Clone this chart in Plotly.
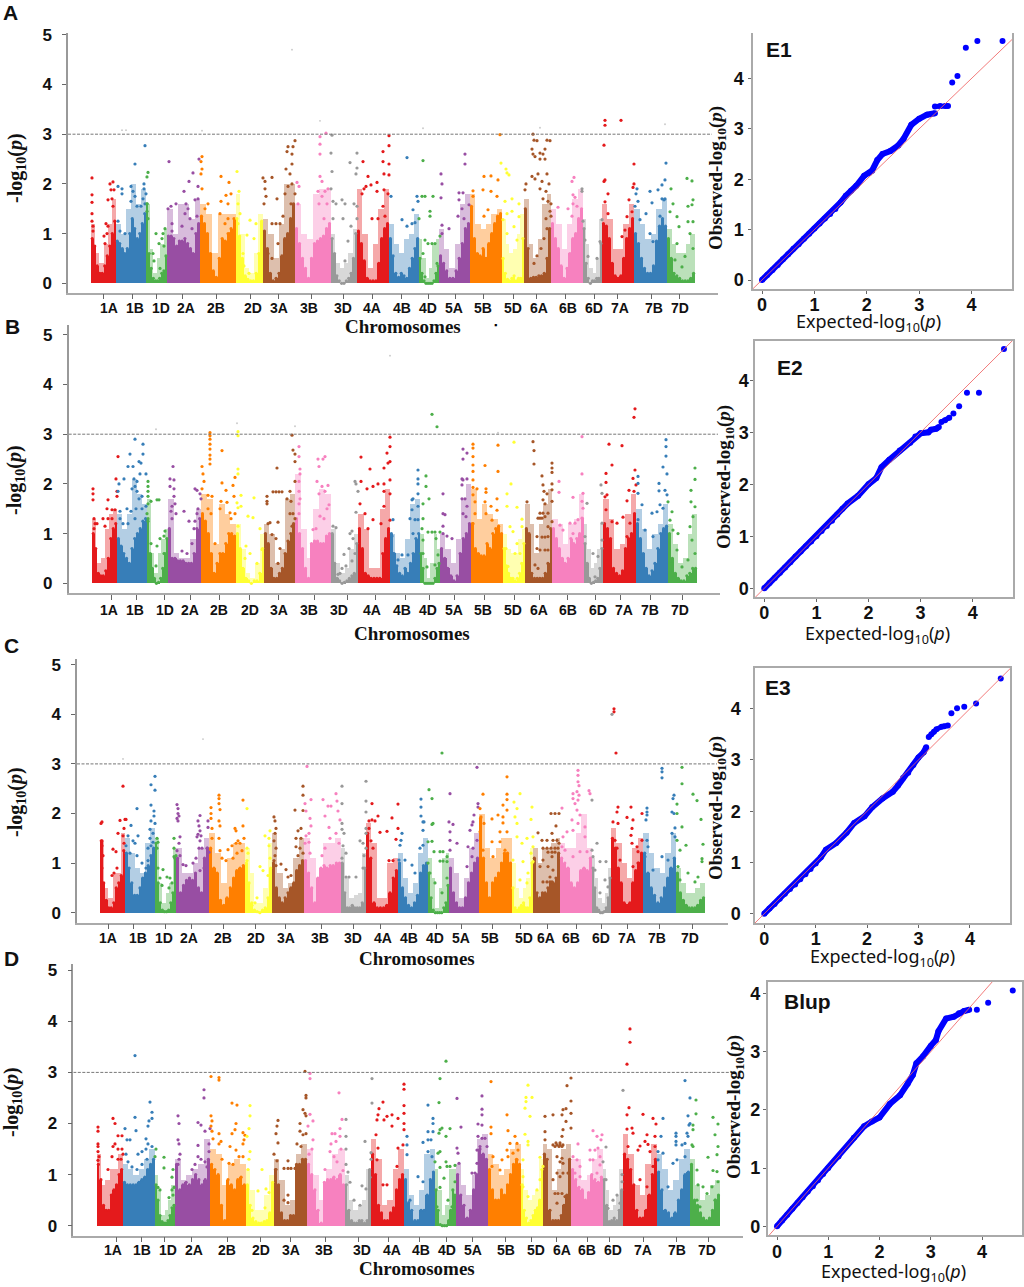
import plotly.graph_objects as go

CHROMS = ["1A","1B","1D","2A","2B","2D","3A","3B","3D","4A","4B","4D","5A","5B","5D","6A","6B","6D","7A","7B","7D"]
SET1 = ["#E41A1C","#377EB8","#4DAF4A","#984EA3","#FF7F00","#FFFF33","#A65628","#F781BF","#999999"]

# ---------------- Panel A ----------------
A_bounds = [91,116,146,167,200,235.5,263,295,331,357,389,419,439,470,502,524,551,583,602,634,667,695]
A_ticks = [103,132,156,182,216,250,278,311,343,372,401,428,455,483,513,536,565,594,617,651,679]
A_labels = [109,135,161,186,216,253,279,309,343,372,402,428,454,483,513,539,568,594,620,654,680]
A_solid = [
 [0.9,0.75,0.35,0.2,0.2,0.35,0.55,0.75,1.0,1.25],
 [0.85,0.8,0.7,0.6,0.7,1.0,1.3,1.1,0.9,1.0,1.2,1.4],
 [1.6,0.6,0.3,0.1,0.05,0.05,0.1,0.2,0.25,0.55],
 [0.95,0.95,0.9,0.75,0.85,0.85,0.9,0.8,0.7,0.6,1.0,1.2],
 [1.35,1.2,1.0,0.6,0.25,0.12,0.5,0.9,0.85,1.0,1.1,1.3],
 [1.3,0.95,0.5,0.15,0.08,0.05,0.05,0.2,0.6,1.25],
 [1.05,0.7,0.2,0.05,0.1,0.2,0.55,0.9,1.0,1.3,1.6],
 [1.1,0.8,0.5,0.3,0.1,0.5,0.8,0.85,0.9,0.95,1.1,1.2],
 [0.9,0.6,0.15,0.05,0.0,0.0,0.05,0.1,0.2,0.5,1.0],
 [1.05,0.8,0.45,0.1,0.05,0.05,0.05,0.4,0.9,1.1,1.2],
 [0.9,0.55,0.2,0.12,0.2,0.15,0.1,0.3,0.5,0.7,0.9],
 [0.5,0.2,0.05,0,0,0,0,0.05,0.2,0.35],
 [0.55,0.4,0.25,0.1,0.1,0.25,0.5,0.8,1.1,1.2],
 [1.55,0.9,0.6,0.55,0.7,0.5,0.8,1.0,1.2,1.35,1.4],
 [0.5,0.2,0.08,0.05,0.1,0.15,0.05,0.1,0.1,0.9],
 [1.5,0.7,0.1,0.12,0.12,0.15,0.15,0.2,0.5,1.1],
 [1.2,0.9,0.7,0.35,0.1,0.3,0.6,0.9,1.0,1.3,1.5],
 [1.1,0.4,0.1,0.0,0.05,0.05,0.1,0.1,0.8],
 [1.2,1.15,0.9,0.4,0.15,0.1,0.15,0.5,0.9,1.1,1.3],
 [1.0,0.8,0.5,0.3,0.2,0.2,0.35,0.85,1.15,1.3,1.15],
 [0.9,0.5,0.2,0.15,0.1,0.05,0.05,0.05,0.1,0.2],
]
A_haze = [[1.2,0.6,0.4,0.8,1.2,1.7],[1.2,1.0,1.5,2.0,1.6,1.9],[1.6,0.7,0.2,0.5,0.8,1.1],[1.5,1.0,1.6,1.6,1.3,1.7],[1.6,1.4,0.6,1.4,1.4,1.4],[1.8,1.0,0.3,0.2,0.6,1.4],[1.3,1.0,0.5,1.2,2.0,2.0],[1.6,1.0,0.9,1.8,1.9,1.9],[1.0,0.4,0.3,0.4,0.6,1.1],[1.9,1.0,0.3,0.8,1.5,1.9],[1.2,0.8,0.6,0.9,1.0,1.4],[0.9,0.5,0.1,0.3,0.8,0.9],[1.1,0.7,0.3,0.8,1.6,1.8],[1.8,1.2,1.1,1.2,1.4,1.5],[1.3,0.8,0.6,0.7,1.0,1.4],[1.7,0.8,0.5,0.9,1.6,1.8],[1.5,1.2,0.7,1.2,1.7,1.9],[1.3,0.8,0.3,0.2,0.5,1.3],[1.6,1.3,0.7,0.7,1.2,1.6],[1.5,1.2,0.9,1.0,1.5,1.7],[1.1,0.8,0.6,0.6,0.8,1.0]]
A_dots = [
 [(92,2.12),(92,1.78),(92,1.63),(92,1.4),(92,1.25),(93,1.15),(93,1.05),(110,2.0),(113,2.04),(111,1.88),(114,1.88),(108,1.68),(112,1.7),(113,1.55),(106,1.2),(108,1.15),(104,0.95),(107,1.0),(105,0.8)],
 [(118,1.25),(122,1.9),(122,1.8),(118,1.95),(135,2.4),(145,2.77),(131,1.95),(133,1.85),(135,1.75),(131,1.65),(137,1.55),(141,1.55),(144,2.0),(144,1.9),(146,1.8),(143,1.7),(145,1.6),(125,1.0),(120,1.05)],
 [(148,2.23),(147,2.14),(147,1.6),(147,1.45),(148,1.3),(156,1.0),(163,1.0),(159,0.8),(165,1.1),(162,0.9),(153,0.6),(154,0.45),(160,0.3),(164,0.75)],
 [(169,2.45),(168,1.5),(171,1.55),(176,1.6),(184,1.85),(189,2.05),(193,2.22),(199,2.5),(186,1.6),(188,1.5),(185,1.4),(190,1.3),(195,1.68),(198,1.95),(198,1.7),(197,1.35),(172,1.2),(172,1.05),(182,1.15),(192,1.1)],
 [(202,2.55),(201,2.45),(202,2.3),(201,2.2),(202,1.9),(221,2.15),(229,2.03),(221,1.65),(226,1.77),(231,1.8),(228,1.6),(208,1.6),(205,1.5),(220,1.4),(225,1.2),(228,1.3),(230,1.0)],
 [(237,2.25),(239,1.85),(238,1.6),(240,1.4),(238,1.2),(250,1.27),(256,1.2),(247,0.97),(254,0.9),(244,0.35),(249,0.2),(243,0.6)],
 [(263,2.12),(265,2.05),(272,2.13),(265,1.9),(266,1.75),(277,1.7),(264,1.6),(272,1.2),(276,1.2),(280,1.2),(283,1.35),(286,2.3),(288,2.75),(287,2.65),(292,2.6),(295,2.87),(293,2.75),(290,2.2),(292,2.4),(288,1.95),(292,2.0),(295,1.8),(285,1.8),(291,1.6),(278,0.8),(272,0.5),(268,0.6)],
 [(297,2.03),(299,1.95),(298,1.6),(320,2.95),(320,2.8),(320,2.6),(326,3.02),(320,2.15),(322,2.05),(318,1.85),(322,1.75),(319,1.6),(325,1.85),(328,1.9),(327,1.6),(324,1.3)],
 [(332,2.98),(331,2.62),(332,2.25),(331,1.9),(333,1.65),(336,1.6),(342,1.68),(345,1.6),(343,1.3),(333,1.3),(350,2.43),(357,2.62),(357,2.32),(356,2.2),(354,1.6),(357,1.55),(351,1.15),(357,1.3),(348,0.85),(345,0.45)],
 [(383,2.65),(389,2.97),(389,2.77),(383,2.45),(389,2.4),(384,2.2),(389,2.18),(377,2.03),(371,1.98),(364,1.9),(368,2.15),(363,2.45),(377,1.85),(384,1.88),(388,1.8),(372,1.3),(378,1.3),(383,1.55),(385,1.35),(366,1.95),(362,1.8)],
 [(407,2.53),(391,1.75),(413,1.48),(417,1.75),(418,1.65),(402,1.28),(407,1.15),(412,1.2),(415,1.22)],
 [(423,2.47),(422,1.75),(425,1.75),(433,1.75),(430,1.45),(430,1.35),(419,1.3),(428,0.8),(432,0.8),(435,0.8),(440,0.95),(437,0.4),(425,0.87),(423,0.6),(425,0.13)],
 [(441,2.2),(442,2.0),(441,1.72),(465,2.6),(465,2.4),(459,1.82),(463,1.82),(459,1.68),(469,1.58),(462,1.5),(442,1.17),(449,1.1),(442,1.0),(458,1.35),(464,1.3)],
 [(473,1.86),(473,1.75),(484,2.15),(491,2.16),(483,1.88),(491,1.85),(498,2.08),(497,1.75),(500,2.99),(488,1.48),(484,1.35)],
 [(501,2.42),(506,2.3),(507,2.22),(509,2.18),(505,1.65),(512,1.7),(519,1.6),(507,1.4),(512,1.45),(503,1.28),(514,1.14),(519,1.34),(507,1.0),(517,0.87)],
 [(526,2.0),(525,1.88),(533,3.0),(534,2.88),(537,2.87),(547,2.88),(550,2.87),(545,2.7),(532,2.7),(533,2.6),(535,2.55),(540,2.62),(543,2.6),(545,2.5),(540,2.5),(532,2.15),(535,2.1),(538,2.2),(542,2.05),(547,2.2),(549,2.0),(540,1.9),(546,1.85),(543,1.7),(548,1.65),(551,1.6),(550,1.45),(546,1.3),(551,1.35),(547,1.1),(544,0.9),(541,0.7),(537,0.55),(534,0.4)],
 [(558,1.53),(574,2.13),(572,2.05),(573,1.78),(575,1.73),(573,1.6),(568,1.5),(577,1.55),(572,1.35)],
 [(582,1.9),(582,1.85),(583,1.25),(602,1.28),(600,0.84),(588,0.54),(597,0.5),(585,0.87)],
 [(605,3.28),(605,3.18),(604,2.78),(621,3.28),(634,2.4),(604,2.05),(605,2.08),(608,1.8),(634,2.0),(633,1.93),(629,1.68),(605,1.64),(627,1.34),(625,1.07),(622,0.94),(608,1.4),(632,1.44)],
 [(666,2.42),(665,2.08),(662,1.98),(658,1.88),(650,1.85),(637,1.9),(636,1.8),(652,1.62),(662,1.7),(664,1.68),(665,1.7),(635,1.55),(638,1.65),(646,1.4),(640,1.28),(650,1.0),(653,0.84),(660,1.35)],
 [(687,2.11),(692,2.06),(671,1.9),(693,1.68),(692,1.58),(688,1.55),(673,1.6),(670,1.44),(677,1.34),(688,1.24),(693,1.24),(679,1.14),(677,0.8),(685,0.54),(693,0.7),(690,1.0),(682,0.33),(675,0.47)],
]
A_faint = [(122,3.08),(126,3.08),(202,3.07),(292,4.7),(320,3.27),(423,3.12),(540,3.13),(665,3.2)]

# ---------------- Panel B ----------------
B_bounds = [92,117,147,168,201,236,264,295,331,358,390,420,440,471,503,525,552,584,603,636,668,697]
B_ticks = [111,136,164,190,219,249,278,314,347,375,405,429,454,484,514,539,567,595,620,650,682]
B_labels = [109,135,165,190,219,250,279,309,339,372,402,428,454,483,513,539,568,598,624,650,680]
B_solid = [
 [1.0,0.7,0.2,0.15,0.15,0.25,0.5,0.9,1.1,1.2],
 [0.9,0.75,0.6,0.5,0.4,0.7,0.9,1.0,1.1,1.25,1.3],
 [1.3,0.6,0.3,0.1,0.0,0.02,0.1,0.3,0.6,0.9],
 [1.1,0.5,0.5,0.45,0.45,0.45,0.4,0.4,0.4,0.6,1.1,1.3],
 [1.4,1.25,1.0,0.6,0.2,0.4,0.6,0.6,0.8,1.0,1.0,0.95],
 [1.0,0.7,0.3,0.1,0.05,0.0,0.05,0.05,0.2,0.7],
 [1.0,0.8,0.3,0.1,0.1,0.2,0.3,0.6,0.85,1.0,1.2],
 [1.3,1.0,0.7,0.3,0.1,0.8,0.85,0.85,0.8,0.8,0.95,1.0],
 [1.0,0.4,0.1,0.05,0,0.02,0.05,0.1,0.15,0.2,0.8],
 [1.1,0.7,0.2,0.15,0.1,0.1,0.1,0.1,0.6,0.9,1.1],
 [1.0,0.6,0.35,0.2,0.15,0.3,0.2,0.4,0.6,0.9,1.0],
 [0.6,0.3,0.0,0,0,0,0,0.1,0.3,0.4],
 [0.7,0.5,0.3,0.15,0.05,0.15,0.6,0.9,1.0,1.2],
 [1.2,0.7,0.6,0.55,0.55,0.8,0.7,1.0,1.1,1.15,1.0],
 [0.7,0.35,0.2,0.1,0.1,0.05,0.1,0.2,0.4,0.8],
 [1.1,1.0,0.2,0.1,0.1,0.1,0.1,0.2,0.4,1.1],
 [1.1,0.9,0.7,0.5,0.4,0.5,0.9,0.8,0.9,1.0,1.3],
 [0.8,0.4,0.1,0.0,0.02,0.05,0.1,0.3,0.7],
 [1.2,1.1,0.9,0.3,0.2,0.15,0.25,0.7,0.9,1.0,1.4],
 [1.2,0.9,0.6,0.3,0.15,0.25,0.4,0.7,1.0,1.1,1.15],
 [1.0,0.5,0.2,0.1,0.05,0.05,0.15,0.2,0.3,0.3],
]
B_haze = [[1.3,0.4,0.5,1.1,1.4,1.5],[1.4,1.1,1.4,2.1,1.8,1.6],[1.7,0.6,0.2,0.6,0.9,1.1],[1.7,0.6,0.5,0.5,0.9,1.5],[1.8,1.7,0.8,1.6,1.4,1.2],[1.2,0.7,0.2,0.1,0.4,1.0],[1.2,1.0,0.4,0.7,1.7,1.8],[2.2,1.1,0.5,1.5,1.9,1.8],[1.1,0.4,0.2,0.3,0.7,1.0],[1.4,1.1,0.3,0.3,1.5,1.9],[1.0,0.6,0.5,0.9,1.6,1.7],[1.0,0.5,0.1,0.4,1.0,0.7],[1.0,0.7,0.4,0.9,1.7,2.0],[1.9,1.3,1.6,1.4,1.3,1.2],[1.0,0.7,0.6,0.6,0.9,1.1],[1.6,1.2,0.6,1.2,1.6,1.9],[1.3,1.2,0.8,1.2,1.3,1.8],[1.2,0.7,0.3,0.4,0.7,1.2],[1.7,1.3,0.7,0.8,1.4,1.8],[1.5,1.1,0.7,1.0,1.2,1.6],[1.2,0.8,0.4,0.5,1.0,1.4]]
B_dots = [
 [(93,1.9),(93,1.8),(93,1.68),(94,1.3),(95,1.2),(97,1.2),(94,1.1),(118,2.55),(116,2.1),(117,1.85),(117,1.75),(108,1.68),(107,1.5),(112,1.48),(115,1.48),(103,1.3),(108,1.3),(112,1.3),(105,1.15)],
 [(135,2.9),(143,2.8),(130,2.6),(143,2.6),(128,2.35),(133,2.35),(139,2.45),(141,2.42),(124,2.1),(119,2.0),(118,1.85),(140,2.2),(146,2.2),(134,2.1),(137,2.05),(135,1.95),(132,1.9),(137,1.85),(142,1.75),(139,1.7),(120,1.45),(120,1.3),(127,1.5),(131,1.45),(136,1.5),(142,1.5),(146,1.55),(123,1.2),(128,1.2),(135,1.3),(144,1.2)],
 [(148,2.05),(148,1.95),(148,1.85),(148,1.75),(148,1.6),(147,1.4),(148,1.25),(151,1.65),(157,1.68),(159,1.68),(165,1.05),(164,0.95),(160,0.9),(157,0.75),(164,0.6),(151,0.8),(156,0.35)],
 [(173,2.35),(170,2.1),(174,2.08),(170,1.95),(174,1.9),(174,1.75),(175,1.6),(172,1.55),(171,1.45),(176,1.4),(172,1.3),(184,1.45),(195,1.9),(197,1.87),(189,1.25),(195,1.25),(197,1.4),(198,1.5),(200,1.8),(201,1.7),(194,1.1),(192,0.8),(187,0.6),(182,0.65)],
 [(210,3.03),(210,2.97),(210,2.9),(210,2.8),(210,2.7),(210,2.58),(210,2.5),(210,2.4),(202,2.35),(203,2.2),(204,2.05),(222,2.67),(222,2.02),(202,1.9),(208,1.77),(212,1.75),(226,1.87),(233,1.97),(235,2.13),(221,1.65),(227,1.63),(230,1.42),(220,1.5),(234,1.75),(235,1.4),(231,1.3),(208,1.5),(211,1.4),(215,0.8)],
 [(238,3.05),(238,2.97),(238,2.3),(238,2.2),(241,1.77),(237,1.62),(238,1.52),(241,1.55),(254,1.72),(248,1.35),(253,1.32),(238,1.15),(246,0.75),(250,0.6),(245,0.5),(260,1.1),(262,0.68),(257,0.4)],
 [(277,2.32),(273,1.84),(276,1.84),(279,1.84),(282,1.84),(267,1.75),(267,1.65),(267,1.6),(268,1.2),(270,1.22),(278,1.23),(272,0.98),(276,0.9),(280,0.7),(278,0.4),(292,2.98),(293,2.68),(295,2.6),(295,2.45),(295,2.05),(290,1.85),(287,1.7),(291,1.65),(290,1.4),(293,1.4),(295,1.3),(292,1.15)],
 [(299,2.75),(299,2.55),(300,2.3),(300,2.2),(299,2.05),(299,1.85),(300,1.7),(299,1.6),(299,1.4),(318,2.5),(323,2.5),(325,2.55),(319,2.35),(317,2.05),(322,1.95),(328,1.97),(319,1.8),(325,1.85),(329,1.58),(327,1.5),(320,1.35),(324,1.3),(313,1.08),(316,1.1)],
 [(333,1.15),(336,1.12),(355,2.05),(356,2.0),(356,1.43),(358,1.85),(352,1.05),(350,1.0),(353,0.9),(349,0.7),(344,0.58),(346,0.35),(340,0.2),(355,0.6),(352,0.45),(342,0.3),(338,0.18)],
 [(390,2.94),(390,2.75),(387,2.62),(390,2.45),(388,2.42),(384,2.32),(370,2.3),(361,2.54),(390,2.08),(384,2.0),(378,2.0),(373,1.95),(367,1.9),(390,1.8),(384,1.85),(384,1.55),(365,1.4),(373,1.28),(390,1.27),(368,1.1),(381,1.2),(361,2.05),(360,1.6)],
 [(418,2.28),(418,2.1),(418,2.0),(418,1.8),(412,1.68),(413,1.7),(418,1.55),(412,1.48),(410,1.3),(415,1.28),(393,1.28),(418,1.28),(392,0.95),(413,1.0),(402,0.57),(408,0.57),(393,0.6),(398,0.47)],
 [(432,3.4),(437,3.15),(426,2.16),(426,1.95),(429,1.7),(423,1.6),(423,1.3),(422,1.1),(428,1.03),(432,1.03),(435,1.03),(440,1.03),(436,0.9),(423,0.87),(423,0.6),(435,0.37),(438,0.57),(427,0.33)],
 [(443,1.8),(443,1.4),(445,1.38),(443,1.15),(443,1.0),(447,0.95),(452,0.9),(463,2.7),(467,2.62),(463,2.5),(462,2.1),(463,2.08),(467,2.1),(462,1.98),(462,1.7),(465,1.7),(467,1.55),(463,1.4),(466,1.34)],
 [(473,2.8),(473,2.72),(498,2.78),(485,2.37),(473,2.55),(473,2.38),(473,2.25),(498,2.25),(473,2.08),(473,1.93),(477,1.9),(486,1.9),(486,1.83),(473,1.78),(475,1.64),(485,1.64),(497,1.7),(491,1.55),(497,1.47),(475,1.4),(486,1.4),(492,1.27),(473,1.2)],
 [(514,2.84),(511,2.0),(507,1.8),(507,1.55),(517,1.53),(510,1.14),(522,1.29),(513,1.04),(522,1.14),(506,0.7),(517,0.8),(515,0.6),(508,0.34),(520,0.6)],
 [(533,2.85),(534,2.67),(534,2.4),(527,1.64),(542,2.16),(543,1.98),(544,1.85),(547,1.8),(543,1.68),(545,1.6),(552,2.42),(552,2.32),(552,2.23),(552,2.0),(552,1.88),(552,1.65),(540,1.31),(538,1.31),(542,1.31),(545,1.34),(540,1.41),(543,1.41),(548,1.41),(552,1.24),(548,1.14),(537,0.94),(542,0.93),(545,0.93),(548,0.94),(537,0.7),(540,0.67),(545,0.67),(548,0.67),(535,0.37),(538,0.3)],
 [(559,2.05),(559,1.83),(582,2.95),(582,2.2),(573,1.73),(583,1.81),(582,1.65),(583,1.51),(570,1.21),(575,1.21),(578,1.28),(582,1.31),(560,1.17),(563,1.07),(573,1.0)],
 [(601,1.98),(602,1.81),(587,1.61),(602,1.21),(585,0.94),(602,0.87),(593,0.6),(598,0.54),(587,0.34),(595,0.13)],
 [(635,3.51),(634,3.34),(609,2.8),(622,2.77),(612,2.38),(606,2.21),(606,2.03),(635,2.28),(633,2.11),(636,1.98),(629,1.87),(634,1.85),(627,1.66),(605,1.74),(607,1.78),(606,1.48),(623,1.33),(617,1.21),(612,1.24),(630,1.21),(627,0.94)],
 [(666,2.89),(666,2.75),(666,2.56),(663,2.34),(667,2.2),(638,2.15),(638,2.01),(659,2.01),(659,1.86),(665,1.87),(667,1.78),(638,1.81),(642,1.58),(660,1.58),(663,1.51),(652,1.41),(657,1.44),(638,1.28),(645,1.07),(653,0.94)],
 [(695,2.32),(695,2.09),(691,1.87),(691,1.64),(695,1.54),(668,1.64),(672,1.44),(670,1.27),(693,1.34),(690,1.14),(678,1.0),(673,1.07),(692,0.87),(677,0.67),(688,0.47),(695,0.6),(682,0.33),(672,0.4)],
]
B_faint = [(156,3.1),(237,3.22),(295,3.16),(390,4.58),(498,3.03)]

# ---------------- Panel C ----------------
C_bounds = [100,125,155,176,209,245,272,304,341,366,398,428,449,479,512,533,560,592,611,643,676,705]
C_ticks = [108,133,165,191,223,255,285,321,353,380,411,436,461,492,520,547,576,601,627,659,692]
C_labels = [108,138,164,189,223,256,286,320,353,383,409,435,461,490,524,546,571,601,627,657,690]
C_solid = [
 [1.45,0.6,0.25,0.1,0.1,0.2,0.5,0.6,0.75,1.25],
 [1.2,0.9,0.6,0.35,0.35,0.5,0.7,0.8,0.95,1.15,1.3],
 [1.4,0.6,0.2,0.05,0.02,0.02,0.05,0.2,0.4,1.1],
 [1.1,0.4,0.55,0.65,0.7,0.65,0.8,0.5,0.4,1.1,1.3],
 [1.3,0.9,0.8,0.25,0.15,0.3,0.5,0.7,0.85,0.9,0.95],
 [1.0,0.6,0.2,0.05,0.02,0,0.05,0.1,0.3,0.9],
 [1.0,0.5,0.3,0.2,0.3,0.4,0.5,0.6,0.85,0.95,1.05],
 [1.05,0.8,0.5,0.2,0.7,0.9,0.95,0.9,0.95,0.95,1.0,1.0],
 [1.0,0.4,0.1,0.1,0.15,0.1,0.1,0.1,0.2,0.9],
 [1.6,1.1,0.2,0.1,0.1,0.1,0.15,0.4,0.7,0.85],
 [1.0,0.5,0.3,0.15,0.1,0.2,0.35,0.8,0.95,1.0],
 [0.8,0.3,0.05,0,0,0,0,0.1,0.2,0.55],
 [0.9,0.4,0.2,0.1,0.1,0.3,0.6,0.8,1.0,1.1],
 [1.9,1.1,0.6,0.3,0.6,0.7,0.8,1.0,1.2,1.2,1.0],
 [0.5,0.1,0.05,0.1,0.15,0.2,0.1,0.1,0.3,1.0],
 [1.1,0.4,0.3,0.4,0.4,0.5,0.6,0.6,0.7,1.2],
 [1.1,1.0,0.9,0.6,0.5,0.6,0.85,0.9,0.85,1.1],
 [0.9,0.5,0.1,0.05,0.0,0.0,0.02,0.1,0.3,0.7],
 [1.5,1.3,0.9,0.6,0.2,0.15,0.2,0.6,0.85,1.0,1.2],
 [1.2,0.8,0.5,0.35,0.2,0.3,0.5,0.7,0.9,1.1],
 [0.8,0.4,0.25,0.15,0.1,0.1,0.1,0.15,0.25,0.3],
]
C_haze = [[1.45,0.5,0.3,0.8,0.8,1.6],[1.5,1.2,0.9,0.8,1.4,1.7],[1.5,0.6,0.2,0.4,0.6,1.3],[1.3,0.8,0.8,1.0,1.3,1.5],[1.6,1.2,0.6,1.1,1.4,1.4],[1.3,0.8,0.2,0.2,0.5,1.4],[1.6,0.8,0.5,0.6,1.1,1.5],[1.5,1.1,0.7,1.4,1.4,1.5],[1.3,0.7,0.3,0.35,0.4,1.2],[1.8,1.4,0.3,0.3,1.0,1.1],[1.2,0.7,0.4,0.6,1.2,1.5],[1.1,0.7,0.1,0.5,1.1,1.2],[1.1,0.8,0.3,0.7,1.3,1.6],[2.0,1.3,1.1,1.3,1.5,1.5],[1.0,0.5,0.3,0.5,0.7,1.3],[1.3,1.0,1.3,1.3,1.4,1.5],[1.4,1.3,1.3,1.6,2.0,1.3],[1.1,0.7,0.3,0.2,0.4,0.9],[1.7,1.4,1.0,0.7,1.3,1.5],[1.6,1.2,0.9,0.8,1.2,1.6],[0.9,0.6,0.4,0.4,0.5,0.6]]
C_dots = [
 [(101,1.8),(102,1.83),(102,1.45),(102,1.35),(103,1.15),(102,0.9),(113,1.28),(116,1.23),(123,2.55),(120,1.86),(125,1.88),(126,1.88),(118,1.6),(124,1.7),(123,1.55),(124,1.4),(117,0.9),(114,0.8),(112,0.75)],
 [(137,2.1),(131,1.76),(128,1.55),(138,1.55),(133,1.45),(135,1.4),(126,1.35),(130,1.2),(137,1.15),(142,1.0),(148,1.05),(151,2.58),(155,2.75),(155,2.47),(151,2.17),(154,2.05),(154,1.95),(151,1.85),(155,1.8),(150,1.68),(153,1.6),(150,1.5),(153,1.42),(148,1.3),(151,1.35),(146,0.9)],
 [(157,1.5),(158,1.42),(157,1.3),(163,0.87),(167,0.72),(170,0.7),(174,1.5),(174,1.3),(174,1.13),(176,1.15),(160,0.7),(162,0.55),(158,0.9),(169,0.5),(172,0.6)],
 [(177,2.18),(178,2.1),(178,2.0),(179,1.95),(177,1.9),(178,1.85),(180,1.53),(179,1.4),(177,1.25),(180,1.15),(183,0.97),(186,0.95),(200,1.96),(198,1.85),(199,1.75),(200,1.65),(198,1.58),(201,1.55),(197,1.53),(200,1.45),(199,1.3),(202,1.3),(208,1.85),(208,1.72),(207,1.3),(209,1.22),(193,1.0),(196,1.1),(200,0.85),(204,0.9),(205,0.6)],
 [(211,2.12),(211,2.0),(211,1.9),(212,1.7),(219,2.37),(219,2.3),(219,2.2),(220,2.08),(219,1.85),(220,1.75),(212,1.5),(219,1.5),(220,1.25),(222,1.1),(235,1.7),(236,1.65),(228,1.27),(232,1.35),(236,1.4),(238,1.45),(243,2.27),(243,1.75),(244,1.5),(240,1.4),(242,1.25),(233,1.1),(226,1.05),(237,1.2)],
 [(247,2.1),(247,1.3),(248,1.2),(247,1.05),(270,1.65),(269,1.5),(265,1.55),(269,1.35),(270,1.1),(260,0.93),(263,0.85),(268,0.75),(257,0.3),(255,0.2),(252,0.15)],
 [(274,1.93),(275,1.85),(276,1.7),(275,1.6),(274,1.45),(276,1.3),(275,1.15),(274,1.05),(276,0.95),(281,0.98),(286,0.87),(295,2.07),(303,2.55),(303,2.37),(303,2.06),(301,1.7),(298,1.65),(296,1.5),(301,1.5),(296,1.33),(300,1.3),(298,1.15),(303,1.2),(291,0.75),(288,0.72)],
 [(305,2.2),(306,2.05),(311,2.28),(310,1.9),(311,1.75),(309,1.6),(306,1.55),(305,1.4),(309,1.42),(310,1.2),(323,2.28),(331,2.15),(328,2.15),(336,2.4),(337,2.25),(338,2.05),(325,1.95),(340,1.87),(329,1.72),(336,1.6),(330,1.5),(325,1.3),(322,1.15),(307,2.95),(339,1.4)],
 [(342,2.55),(342,2.2),(342,1.8),(342,1.68),(344,1.6),(343,1.35),(346,1.2),(342,1.1),(366,2.65),(366,2.25),(366,2.03),(366,1.7),(366,1.6),(360,1.45),(363,1.4),(366,1.3),(346,0.72),(349,0.72),(356,0.72),(364,1.15),(363,0.9)],
 [(372,2.2),(378,1.95),(372,1.87),(392,1.91),(398,2.19),(387,1.64),(380,1.62),(398,1.7),(396,1.48),(369,1.85),(375,1.85),(371,1.45),(369,1.7),(373,1.3),(389,1.05),(393,1.05)],
 [(421,2.29),(421,2.13),(421,1.95),(423,1.83),(424,1.83),(423,1.66),(402,1.6),(401,1.46),(400,1.36),(420,1.3),(423,1.36),(399,1.06),(405,1.06),(412,0.96),(415,0.8)],
 [(442,3.22),(429,2.48),(432,2.3),(432,1.78),(433,1.8),(428,1.43),(432,1.44),(434,1.23),(440,1.23),(443,1.23),(447,1.13),(440,1.04),(443,1.04),(447,1.03),(428,1.0),(435,0.6),(447,0.7),(442,0.4),(430,0.8)],
 [(450,2.4),(449,1.83),(453,1.78),(450,1.63),(450,1.46),(450,1.26),(457,1.4),(477,2.93),(478,2.2),(478,2.13),(474,1.97),(473,1.83),(472,1.77),(470,1.66),(477,1.46),(468,1.33),(473,1.3),(472,1.13),(467,0.93)],
 [(483,2.39),(507,2.74),(480,2.1),(481,1.93),(484,1.8),(492,1.89),(498,1.97),(507,2.39),(507,2.28),(503,2.17),(507,2.07),(503,1.93),(503,1.81),(500,1.63),(507,1.63),(480,1.63),(492,1.43),(500,1.43),(505,1.26),(493,1.13),(483,1.26)],
 [(520,2.4),(514,2.23),(517,2.1),(532,2.13),(515,1.93),(517,1.8),(531,1.88),(517,1.53),(522,1.4),(527,1.5),(533,1.53),(531,1.2),(533,1.33),(513,1.06),(523,1.03),(533,1.03),(528,0.8),(520,0.66),(527,0.6)],
 [(538,1.61),(551,2.0),(555,2.0),(559,2.0),(552,1.6),(556,1.75),(542,1.46),(547,1.46),(553,1.46),(557,1.46),(559,1.4),(543,1.3),(547,1.3),(551,1.3),(555,1.3),(558,1.3),(552,1.22),(548,1.22),(555,1.22),(548,0.93),(552,1.13),(543,1.06),(553,0.86),(550,0.72),(543,0.62),(547,0.62),(550,0.62),(552,0.62),(540,0.93)],
 [(562,2.11),(578,2.87),(578,2.77),(578,2.64),(579,2.56),(589,2.46),(573,2.4),(577,2.44),(579,2.37),(573,2.3),(575,2.2),(578,2.27),(590,2.4),(577,2.07),(580,1.97),(572,1.87),(578,1.8),(573,1.66),(585,1.73),(567,1.63),(563,1.53),(585,1.53),(562,1.33),(580,1.23),(587,1.23),(565,1.26),(573,1.13)],
 [(592,2.27),(592,1.26),(597,1.4),(593,1.13),(600,1.03),(606,1.03),(595,0.86),(605,0.66),(612,4.0),(600,0.4),(608,0.52)],
 [(614,4.11),(614,4.05),(616,3.22),(618,2.13),(631,2.13),(617,2.03),(642,2.0),(627,1.92),(633,1.87),(613,1.83),(618,1.8),(632,1.7),(631,1.56),(615,1.46),(632,1.4),(637,1.33),(638,1.23),(642,1.46),(617,1.3),(620,1.06),(633,0.93),(638,1.0)],
 [(662,2.91),(662,2.84),(662,2.72),(674,2.37),(673,2.3),(647,2.11),(647,2.03),(647,1.97),(672,2.03),(674,2.0),(675,1.71),(672,1.6),(675,1.53),(646,1.87),(647,1.46),(648,1.33),(662,1.13),(668,1.06),(645,1.13),(653,0.86)],
 [(682,2.93),(682,2.6),(693,2.39),(697,2.26),(701,1.88),(677,2.19),(677,2.0),(682,1.73),(703,1.38),(677,1.46),(686,1.36),(680,1.26),(702,1.09),(702,1.03),(678,0.93),(688,0.8),(698,0.72),(695,0.62),(680,0.66)],
]
C_faint = [(203,3.5),(123,3.1)]

# ---------------- Panel D ----------------
D_bounds = [97,123,155,175,210,246,274,307,345,371,404,435,456,488,521,543,571,603,623,657,690,720]
D_ticks = [116,141,164,191,227,260,290,325,358,388,419,446,472,505,531,556,587,609,643,676,708]
D_labels = [113,142,168,194,227,261,291,324,362,392,421,447,473,506,536,562,587,613,643,677,707]
D_solid = [
 [1.2,0.9,0.4,0.3,0.3,0.6,0.7,0.8,1.0,1.1],
 [0.85,0.8,0.8,0.8,0.8,0.85,0.9,0.95,1.1,1.2,1.3],
 [0.8,0.5,0.2,0.08,0.05,0.05,0.1,0.2,0.35,0.4],
 [1.2,0.7,0.8,0.85,0.8,0.9,1.0,0.9,0.8,0.9,1.3],
 [1.2,1.1,1.0,0.4,0.1,0.9,0.8,0.7,0.9,0.95,0.8],
 [0.8,0.4,0.15,0.08,0.05,0.05,0.08,0.1,0.25,0.85],
 [1.1,0.8,0.25,0.1,0.1,0.2,0.2,1.2,1.2,1.3,1.3],
 [1.2,1.0,0.7,0.3,0.05,0.85,0.9,0.9,0.95,0.9,1.0,0.8],
 [0.8,0.3,0.1,0.05,0.05,0.1,0.1,0.05,0.1,1.1],
 [1.4,1.0,0.4,0.25,0.1,0.1,0.25,0.35,0.7,0.9,1.0],
 [0.9,0.45,0.3,0.1,0.1,0.3,0.3,0.6,0.9,1.05],
 [0.7,0.3,0.02,0,0,0,0.1,0.3,0.7,0.6],
 [1.0,0.6,0.4,0.15,0.3,0.7,1.0,1.5,1.4,1.3],
 [1.1,0.7,0.5,0.5,0.7,0.6,0.8,1.0,1.2,1.3,1.2],
 [0.8,0.3,0.15,0.05,0.1,0.2,0.3,0.35,0.5,1.1],
 [1.4,1.3,0.3,0.1,0.1,0.1,0.2,0.4,0.6,1.3],
 [1.1,0.9,0.75,0.7,0.5,0.65,1.0,0.9,0.85,0.95],
 [0.9,0.4,0.08,0.1,0.15,0.1,0.3,0.7],
 [1.4,1.3,1.1,0.8,0.3,0.15,0.15,0.3,0.6,1.0,1.3],
 [1.05,0.7,0.3,0.25,0.15,0.25,0.5,0.7,1.0,1.05],
 [1.2,0.5,0.4,0.25,0.15,0.1,0.15,0.3,0.5,0.6],
]
D_haze = [[1.4,0.8,0.9,1.1,1.1,1.4],[1.2,1.1,1.0,1.1,1.3,1.5],[1.0,0.7,0.2,0.3,0.5,0.8],[1.3,0.9,1.0,1.1,1.2,1.7],[1.5,1.4,0.8,1.2,1.3,1.2],[1.1,0.7,0.3,0.3,0.6,1.0],[1.3,0.9,0.4,0.5,1.4,1.6],[1.5,1.0,0.5,1.1,1.4,1.5],[1.0,0.5,0.3,0.4,0.5,1.1],[1.7,1.3,0.4,0.5,1.1,1.5],[1.1,0.6,0.4,0.7,1.4,1.5],[1.1,0.7,0.2,0.4,1.1,1.1],[1.2,0.8,0.6,1.0,1.7,1.8],[1.4,1.2,1.0,1.1,1.5,1.6],[1.1,0.7,0.5,0.6,0.7,1.3],[1.6,1.5,0.7,1.1,1.5,1.6],[1.3,1.3,0.9,1.0,1.3,1.5],[1.1,0.7,0.3,0.4,0.6,1.1],[1.8,1.4,0.8,0.6,1.2,1.6],[1.4,1.1,0.7,0.9,1.3,1.5],[1.3,0.8,0.5,0.6,0.8,0.9]]
D_dots = [
 [(98,1.93),(98,1.85),(98,1.6),(98,1.55),(98,1.45),(99,1.35),(98,1.28),(113,2.1),(115,2.0),(118,1.76),(122,1.76),(115,1.6),(113,1.55),(118,1.5),(122,1.5),(112,1.35),(118,1.3),(121,1.3),(123,1.4),(108,1.1)],
 [(135,3.33),(135,2.12),(125,1.9),(127,1.68),(130,1.68),(136,1.86),(150,2.42),(152,2.22),(152,2.1),(149,2.05),(148,1.95),(146,1.7),(148,1.6),(152,1.55),(146,1.5),(142,1.45),(138,1.4),(126,1.4),(132,1.15),(137,1.1),(142,1.2),(147,1.3),(128,1.25)],
 [(156,1.5),(155,1.35),(164,1.34),(164,1.13),(173,1.1),(172,0.95),(174,0.75),(160,0.7),(158,0.75),(172,0.7),(173,0.6),(169,0.55)],
 [(178,2.15),(179,2.0),(178,1.68),(179,1.6),(180,1.4),(179,1.3),(178,1.2),(198,2.02),(201,1.97),(205,1.85),(210,1.9),(198,1.57),(209,1.6),(204,2.66),(204,2.5),(198,1.35),(201,1.3),(205,1.25),(207,1.15),(209,1.45),(195,1.2),(192,1.1)],
 [(211,2.92),(219,2.9),(219,2.85),(211,2.15),(212,2.05),(211,1.95),(212,1.85),(219,1.8),(221,1.65),(219,1.6),(213,1.7),(232,2.4),(237,2.36),(236,2.0),(235,1.88),(232,1.8),(243,1.82),(245,1.77),(244,1.68),(243,1.6),(230,1.55),(236,1.48),(239,1.35),(243,1.35),(229,1.22),(222,1.3),(233,1.2)],
 [(250,2.35),(250,2.15),(249,1.9),(247,1.75),(250,1.45),(249,1.3),(248,1.1),(262,1.1),(258,0.68),(266,0.72),(265,0.35),(269,0.65),(252,0.3)],
 [(278,2.06),(277,1.95),(276,1.8),(278,1.62),(274,1.4),(277,1.27),(276,1.1),(288,1.27),(284,1.12),(288,1.12),(291,1.12),(295,1.12),(288,0.6),(284,0.5),(288,0.45),(305,3.02),(306,2.55),(306,2.5),(303,2.27),(305,2.2),(306,2.15),(300,2.0),(300,1.85),(303,1.78),(306,1.8),(297,1.6),(301,1.55)],
 [(310,2.98),(310,2.88),(310,2.18),(313,2.05),(308,1.95),(313,1.68),(312,1.5),(309,1.4),(339,2.6),(342,2.08),(340,1.9),(332,1.8),(335,1.8),(340,1.75),(331,1.6),(336,1.65),(330,1.45),(334,1.35),(337,1.25),(325,1.1),(343,1.08),(341,1.5)],
 [(346,2.08),(346,1.75),(346,1.5),(346,1.2),(348,1.05),(372,2.88),(372,2.4),(365,1.65),(371,1.43),(371,1.3),(350,0.85),(362,0.78),(366,0.72),(370,0.95),(354,0.5),(360,0.4)],
 [(404,2.77),(404,2.67),(383,2.42),(379,2.29),(404,2.35),(392,2.17),(398,2.1),(387,2.14),(384,2.07),(378,2.17),(377,2.07),(392,1.95),(404,2.2),(404,2.0),(376,1.78),(404,1.88),(403,1.58),(378,1.52),(398,1.52),(397,1.16),(383,0.8),(387,0.8),(377,1.29)],
 [(428,2.36),(433,2.1),(433,2.0),(428,1.84),(433,1.84),(407,1.75),(407,1.58),(423,1.63),(428,1.68),(431,1.68),(428,1.45),(432,1.35),(407,1.39),(418,0.96),(423,0.86),(410,0.5)],
 [(446,3.22),(440,2.88),(439,2.41),(440,1.88),(442,1.91),(439,1.81),(450,1.9),(446,1.75),(438,1.42),(440,1.45),(446,1.25),(435,1.25),(447,1.16),(450,1.16),(455,1.18),(440,1.14),(444,0.93),(455,0.86),(440,0.75),(448,0.5),(452,0.37),(437,0.37)],
 [(457,2.49),(461,1.93),(457,1.52),(458,1.42),(459,1.22),(482,2.54),(482,2.28),(482,2.17),(478,1.99),(482,1.97),(478,1.75),(482,1.71),(485,1.71),(477,1.48),(480,1.55),(487,1.55),(477,1.22),(475,1.03),(472,1.03)],
 [(491,2.82),(507,2.17),(491,1.93),(491,1.8),(508,1.86),(510,1.61),(515,1.75),(517,1.61),(507,1.48),(518,1.48),(513,1.42),(493,1.35),(502,1.29),(508,1.35),(517,1.29),(500,1.09),(492,1.16)],
 [(528,2.75),(526,2.51),(532,2.51),(526,2.43),(525,2.3),(530,2.14),(525,1.79),(528,1.65),(528,1.58),(523,1.29),(540,1.34),(523,0.96),(543,1.16),(540,0.9),(523,0.76),(537,0.7),(528,0.57)],
 [(545,2.14),(553,2.17),(571,2.89),(567,2.74),(571,2.44),(563,2.27),(566,2.29),(562,2.17),(571,2.2),(566,2.04),(545,1.84),(563,1.88),(571,1.91),(562,1.75),(545,1.68),(553,1.58),(557,1.58),(560,1.58),(563,1.58),(555,1.55),(559,1.55),(562,1.55),(556,1.62),(560,1.62),(557,1.35),(562,1.32),(560,1.25),(563,1.22),(557,1.03),(560,0.96),(563,1.03),(568,1.03),(553,0.9),(555,0.63),(558,0.63),(562,0.63),(565,0.57),(557,0.44)],
 [(578,1.6),(573,1.35),(577,1.29),(580,1.16),(593,1.86),(602,1.78),(597,1.75),(601,1.68),(590,1.48),(595,1.48),(598,1.52),(600,1.35),(590,1.29),(593,1.29),(600,1.19),(597,1.03),(575,1.03),(580,0.96)],
 [(606,1.54),(603,1.25),(606,0.9),(623,2.65),(622,1.0),(622,0.86),(617,0.6),(613,0.5),(608,0.34),(620,0.44)],
 [(630,3.85),(630,3.59),(627,3.16),(629,2.31),(627,2.17),(643,2.18),(653,2.1),(656,1.99),(632,1.91),(633,1.81),(627,1.89),(647,1.78),(655,1.75),(640,1.56),(645,1.65),(648,1.59),(650,1.45),(655,1.55),(628,1.55),(638,1.48),(653,1.16),(640,0.9),(647,0.76)],
 [(685,2.84),(690,2.5),(663,2.1),(688,2.15),(690,2.0),(689,1.97),(661,1.75),(676,1.81),(676,1.75),(676,1.65),(676,1.58),(687,1.81),(688,1.75),(685,1.61),(682,1.58),(658,1.45),(663,1.42),(658,1.29),(685,1.35),(673,1.22),(677,1.29),(668,0.76)],
 [(696,2.46),(696,2.19),(713,2.12),(718,1.99),(693,1.97),(693,1.88),(715,1.78),(692,1.58),(693,1.55),(718,1.55),(717,1.39),(708,1.34),(697,1.09),(713,1.08),(717,1.06),(718,0.86),(698,0.8),(703,0.76),(712,0.76),(707,0.63),(697,0.5),(700,0.37),(715,0.5)],
]
D_faint = []

# ---------------- QQ plots: expected, observed ----------------
E1_x = [0,0.1,0.2,0.3,0.4,0.5,0.6,0.7,0.8,0.9,1.0,1.1,1.2,1.3,1.4,1.5,1.6,1.7,1.8,1.95,2.05,2.1,2.2,2.3,2.45,2.6,2.7,2.85,3.0,3.15,3.3]
E1_y = [0,0.1,0.2,0.3,0.41,0.51,0.62,0.71,0.82,0.92,1.02,1.12,1.22,1.31,1.41,1.54,1.67,1.77,1.87,2.07,2.13,2.17,2.38,2.5,2.56,2.67,2.8,3.08,3.2,3.28,3.31]
E1_flat_x = [3.3,3.4,3.5,3.55]
E1_flat_y = [3.44,3.45,3.45,3.45]
E1_out_x = [3.63,3.73,3.89,4.11,4.59]
E1_out_y = [3.92,4.05,4.61,4.74,4.74]

E2_x = [0,0.1,0.2,0.3,0.4,0.5,0.6,0.7,0.8,0.9,1.0,1.1,1.2,1.3,1.4,1.5,1.6,1.8,2.0,2.15,2.25,2.4,2.6,2.8,2.9,3.0,3.15,3.2,3.3,3.35]
E2_y = [0,0.1,0.2,0.3,0.4,0.5,0.61,0.71,0.81,0.9,1.0,1.1,1.2,1.3,1.42,1.53,1.63,1.78,2.0,2.12,2.33,2.47,2.65,2.8,2.92,2.98,3.0,3.05,3.07,3.1]
E2_flat_x = [3.4,3.47,3.55]
E2_flat_y = [3.2,3.23,3.28]
E2_out_x = [3.63,3.74,3.89,4.12,4.6]
E2_out_y = [3.36,3.5,3.76,3.76,4.6]

E3_x = [0,0.1,0.2,0.3,0.4,0.5,0.6,0.7,0.8,0.9,1.0,1.1,1.2,1.4,1.6,1.75,1.95,2.1,2.3,2.5,2.6,2.7,2.8,2.9,3.0,3.1,3.15]
E3_y = [0,0.1,0.19,0.29,0.39,0.48,0.57,0.67,0.77,0.87,0.98,1.1,1.25,1.38,1.58,1.77,1.9,2.08,2.25,2.38,2.5,2.65,2.75,2.9,3.05,3.15,3.25]
E3_flat_x = [3.2,3.25,3.3,3.35,3.45,3.5,3.57]
E3_flat_y = [3.45,3.5,3.55,3.6,3.65,3.66,3.67]
E3_out_x = [3.64,3.75,3.89,4.12,4.6]
E3_out_y = [3.91,4.01,4.04,4.1,4.59]

BL_x = [0,0.1,0.2,0.3,0.4,0.5,0.6,0.7,0.8,0.9,1.0,1.2,1.5,1.7,1.85,2.0,2.2,2.4,2.55,2.65,2.72,2.85,3.0,3.1,3.15,3.3,3.45,3.55,3.65,3.75]
BL_y = [0,0.1,0.2,0.3,0.4,0.5,0.6,0.69,0.79,0.9,1.0,1.2,1.52,1.72,1.8,1.87,2.1,2.25,2.45,2.6,2.8,2.92,3.1,3.2,3.35,3.57,3.6,3.66,3.7,3.72]
BL_flat_x = []
BL_flat_y = []
BL_out_x = [3.9,4.12,4.6]
BL_out_y = [3.72,3.84,4.05]

W, H = 1024, 1287
MAN_FONT = "Liberation Sans"
SERIF = "Liberation Serif"

def px(x): return x / W
def py(y): return 1 - y / H

fig = go.Figure()
ann = []
layout_axes = {}

def note(text, x, y, size, family=MAN_FONT, color="#111", angle=0, bold=False):
    ann.append(dict(text=f"<b>{text}</b>" if bold else text, x=px(x), y=py(y), xref="paper", yref="paper",
                    showarrow=False, xanchor="center", yanchor="middle", textangle=angle,
                    font=dict(family=family, size=size, color=color)))

def manhattan(n, bounds, ticks, labels, solid, haze, dots, faint, left, right, top, bottom, y0, unit, thr_end, label_y):
    xk = "x" if n == 1 else f"x{n}"
    yk = "y" if n == 1 else f"y{n}"
    bar_x, bar_y, bar_w, bar_c = [], [], [], []
    hz_x, hz_y, hz_w, hz_c = [], [], [], []
    dot_x, dot_y, dot_c = [], [], []
    for i in range(len(CHROMS)):
        col = SET1[i % 9]
        wid = (bounds[i + 1] - bounds[i]) / len(solid[i])
        for j, h in enumerate(solid[i]):
            bar_x.append(bounds[i] + (j + 0.5) * wid)
            bar_y.append(h)
            bar_w.append(wid)
            bar_c.append(col)
        hw = (bounds[i + 1] - bounds[i]) / len(haze[i])
        for j, h in enumerate(haze[i]):
            hz_x.append(bounds[i] + (j + 0.5) * hw)
            hz_y.append(h)
            hz_w.append(hw)
            hz_c.append(col)
        for (a, b) in dots[i]:
            dot_x.append(a); dot_y.append(b); dot_c.append(col)
    fig.add_trace(go.Bar(x=hz_x, y=hz_y, width=hz_w, marker=dict(color=hz_c, opacity=0.38, line=dict(width=0)),
                         xaxis=xk, yaxis=yk, showlegend=False))
    fig.add_trace(go.Bar(x=bar_x, y=bar_y, width=bar_w, marker=dict(color=bar_c, line=dict(width=0)),
                         xaxis=xk, yaxis=yk, showlegend=False))
    fig.add_trace(go.Scatter(x=bar_x, y=bar_y, mode="markers", marker=dict(color=bar_c, size=3.2, line=dict(width=0)),
                             xaxis=xk, yaxis=yk, showlegend=False))
    fig.add_trace(go.Scatter(x=dot_x, y=dot_y, mode="markers", marker=dict(color=dot_c, size=3.2, line=dict(width=0)),
                             xaxis=xk, yaxis=yk, showlegend=False))
    if faint:
        fig.add_trace(go.Scatter(x=[p[0] for p in faint], y=[p[1] for p in faint], mode="markers",
                                 marker=dict(color="#999", size=1.8, opacity=0.55, line=dict(width=0)),
                                 xaxis=xk, yaxis=yk, showlegend=False))
    fig.add_trace(go.Scatter(x=[left, thr_end], y=[3, 3], mode="lines", line=dict(color="#777", width=1, dash="3px,1.5px"),
                             xaxis=xk, yaxis=yk, showlegend=False))
    suffix = "" if n == 1 else str(n)
    layout_axes["xaxis" + suffix] = dict(domain=[px(left), px(right)], range=[left, right], anchor=yk,
        showgrid=False, zeroline=False, showline=True, linecolor="#aaa", linewidth=1.5,
        ticks="outside", ticklen=5, tickcolor="#666", tickwidth=1, tickvals=ticks, showticklabels=False)
    layout_axes["yaxis" + suffix] = dict(domain=[py(bottom), py(top)], range=[(y0 - bottom) / unit, (y0 - top) / unit], anchor=xk,
        showgrid=False, zeroline=False, showline=True, linecolor="#999", linewidth=1.5,
        ticks="outside", ticklen=4, tickcolor="#666", tickwidth=1, tickvals=[0, 1, 2, 3, 4, 5],
        tickfont=dict(family=MAN_FONT, size=17, color="#111", weight=700), ticklabelstandoff=7)
    for name, lx in zip(CHROMS, labels):
        note(name, lx, label_y, 14, bold=True)

def qq(n, x, y, fx, fy, ox, oy, left, right, top, bottom, x0, xu, y0, yu, standoff, mirror_top=True):
    xk = f"x{n}"; yk = f"y{n}"
    blue = "#0000FF"
    fig.add_trace(go.Scatter(x=x, y=y, mode="lines+markers", line=dict(color=blue, width=6),
                             marker=dict(color=blue, size=6), xaxis=xk, yaxis=yk, showlegend=False))
    if fx:
        fig.add_trace(go.Scatter(x=fx, y=fy, mode="lines+markers", line=dict(color=blue, width=5),
                                 marker=dict(color=blue, size=6), xaxis=xk, yaxis=yk, showlegend=False))
    fig.add_trace(go.Scatter(x=ox, y=oy, mode="markers", marker=dict(color=blue, size=6),
                             xaxis=xk, yaxis=yk, showlegend=False))
    rx0, rx1 = (left - x0) / xu, (right - x0) / xu
    fig.add_trace(go.Scatter(x=[rx0, rx1], y=[rx0, rx1], mode="lines", line=dict(color="rgba(240,100,100,0.85)", width=1),
                             xaxis=xk, yaxis=yk, showlegend=False))
    layout_axes[f"xaxis{n}"] = dict(domain=[px(left), px(right)], range=[rx0, rx1], anchor=yk,
        showgrid=False, zeroline=False, showline=True, linecolor="#aaa", linewidth=1.5, mirror=mirror_top,
        ticks="outside", ticklen=3, tickcolor="#666", tickvals=[0, 1, 2, 3, 4],
        tickfont=dict(family=MAN_FONT, size=18, color="#111", weight=700), ticklabelstandoff=-4)
    layout_axes[f"yaxis{n}"] = dict(domain=[py(bottom), py(top)], range=[(y0 - bottom) / yu, (y0 - top) / yu], anchor=xk,
        showgrid=False, zeroline=False, showline=True, linecolor="#aaa", linewidth=1.5, mirror=True,
        ticks="outside", ticklen=3, tickcolor="#666", tickvals=[0, 1, 2, 3, 4],
        tickfont=dict(family=MAN_FONT, size=18, color="#111", weight=700), ticklabelstandoff=standoff)

manhattan(1, A_bounds, A_ticks, A_labels, A_solid, A_haze, A_dots, A_faint, 68, 718, 33, 292.7, 283.3, 49.7, 712, 308)
manhattan(2, B_bounds, B_ticks, B_labels, B_solid, B_haze, B_dots, B_faint, 68.7, 720, 325, 593, 583.3, 49.7, 718, 610)
manhattan(3, C_bounds, C_ticks, C_labels, C_solid, C_haze, C_dots, C_faint, 77, 728, 659, 922.7, 912.7, 49.6, 717, 938)
manhattan(4, D_bounds, D_ticks, D_labels, D_solid, D_haze, D_dots, D_faint, 73.3, 743, 964, 1235.7, 1225.7, 51.1, 733, 1250)

qq(5, E1_x, E1_y, E1_flat_x, E1_flat_y, E1_out_x, E1_out_y, 753, 1012, 33, 289, 762, 52.4, 280, 50.4, 1, mirror_top=False)
qq(6, E2_x, E2_y, E2_flat_x, E2_flat_y, E2_out_x, E2_out_y, 755, 1013, 341, 597, 764.3, 52.1, 588.3, 52, -2)
qq(7, E3_x, E3_y, E3_flat_x, E3_flat_y, E3_out_x, E3_out_y, 755, 1010, 668, 923, 764.3, 51.4, 913.7, 51.25, 6)
qq(8, BL_x, BL_y, BL_flat_x, BL_flat_y, BL_out_x, BL_out_y, 767.7, 1021.7, 982, 1235.3, 777, 51.25, 1226.3, 58.2, -1)

# text
for t, x, y in [("A", 10, 12), ("B", 12, 327), ("C", 11, 645), ("D", 11, 958)]:
    note(t, x, y, 21, bold=True)
for x, y in [(403, 327), (412, 633), (417, 958), (417, 1268)]:
    note("Chromosomes", x, y, 19, family=SERIF, bold=True)
note("▪", 495, 325, 9, color="#000")
LOG = "-log<sub>10</sub>(<i>p</i>)"
for x, y in [(16, 168), (15, 480), (16, 802), (12, 1102)]:
    note(LOG, x, y, 20, family=SERIF, angle=-90, bold=True)
for x, y in [(717, 178), (725, 477), (717, 808), (735, 1107)]:
    note("Observed" + LOG, x, y, 19, family=SERIF, angle=-90, bold=True)
for x, y in [(868, 323), (877, 634), (882, 957), (893, 1272)]:
    note("Expected-log<sub>10</sub>(<i>p</i>)", x, y, 18, family="Noto Sans")
for t, x, y in [("E1", 779, 49), ("E2", 790, 367), ("E3", 778, 687), ("Blup", 807, 1002)]:
    note(t, x, y, 21, bold=True)

fig.update_layout(width=W, height=H, margin=dict(l=0, r=0, t=0, b=0, autoexpand=False), autosize=False,
                  paper_bgcolor="white", plot_bgcolor="rgba(0,0,0,0)", barmode="overlay", bargap=0,
                  showlegend=False, annotations=ann, **layout_axes)
fig.write_html("out.html", config={"displayModeBar": False},
               post_script="document.body.style.margin='0';document.body.style.background='white';")
